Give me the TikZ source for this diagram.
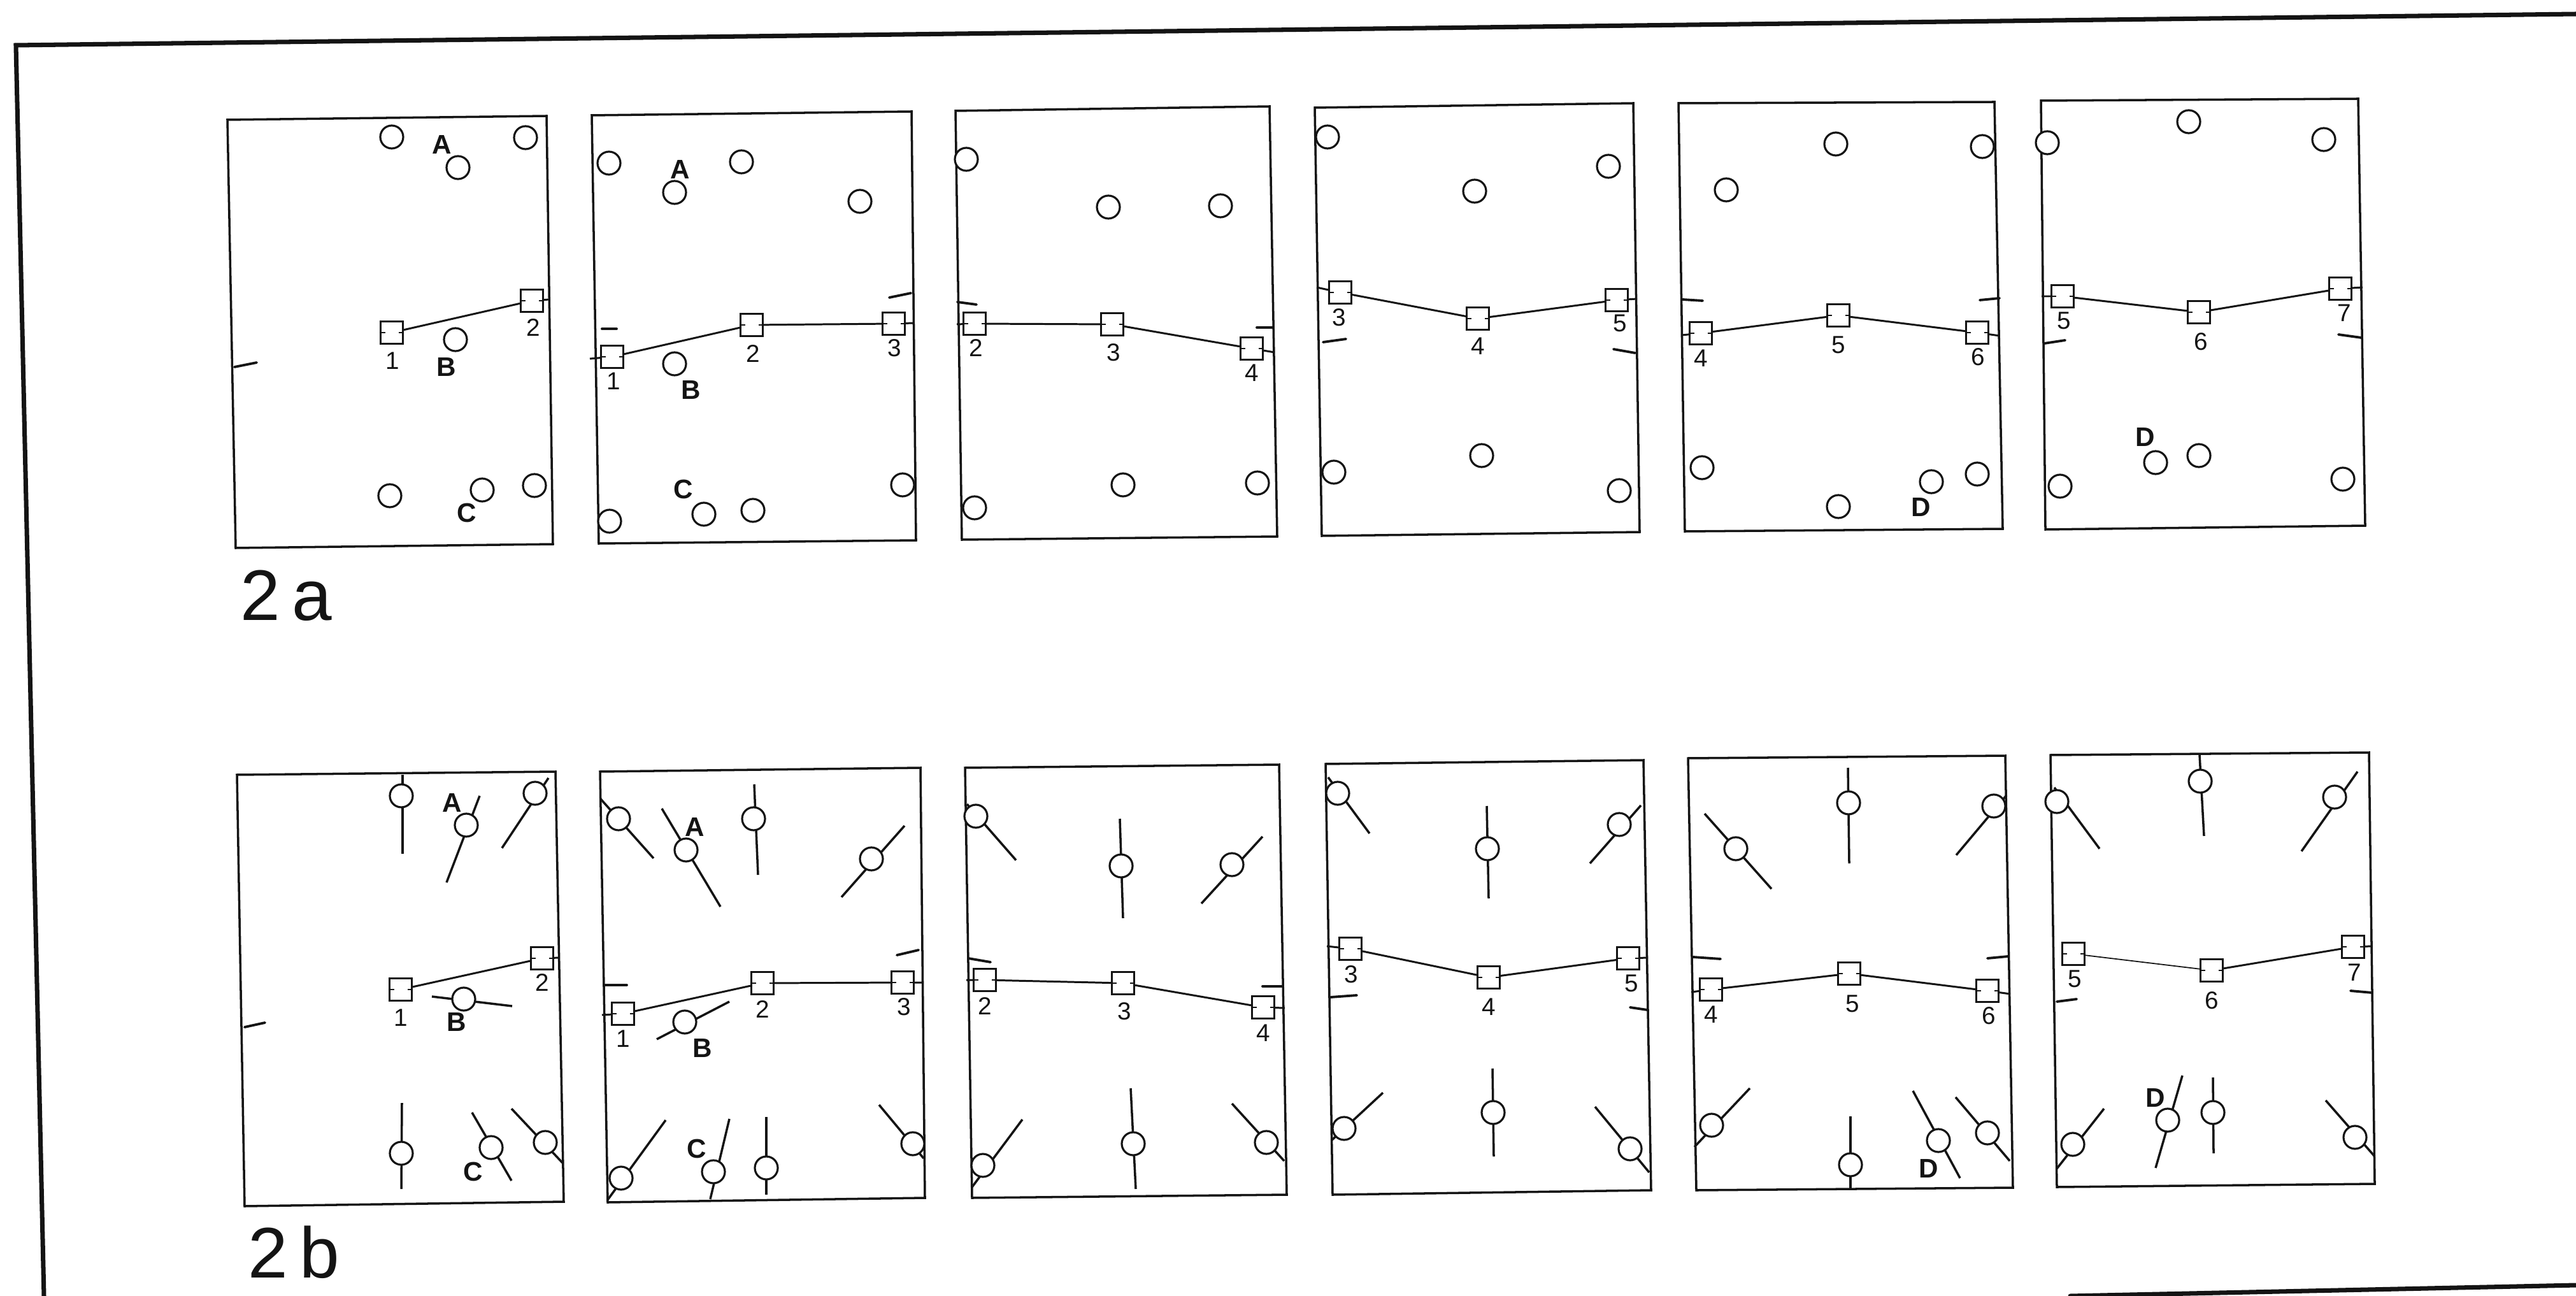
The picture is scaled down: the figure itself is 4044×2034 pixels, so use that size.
\documentclass[tikz,border=0pt]{standalone}
\usepackage{fontspec}
\setmainfont{Liberation Sans}
\usepackage{tikz}
\definecolor{fdink}{HTML}{141414}
\definecolor{fdpage}{HTML}{FFFFFF}
\tikzset{
  fdframe/.style={
    draw=fdink,
    line width=2pt,
    line cap=round
  },
  fdpanel/.style={
    draw=fdink,
    line width=1pt
  },
  fdring/.style={
    circle,
    draw=fdink,
    fill=fdpage,
    line width=0.9pt,
    minimum size=3.6mm,
    inner sep=0pt
  },
  fdstation/.style={
    rectangle,
    draw=fdink,
    fill=fdpage,
    line width=0.75pt,
    minimum size=3.5mm,
    inner sep=0pt,
    path picture={
      \draw[fdink, line width=0.7pt]
        (path picture bounding box.west) -- ++(0.7mm,0)
        (path picture bounding box.east) -- ++(-0.7mm,0);
    }
  },
  fdtrack/.style={
    draw=fdink,
    line width=0.85pt
  },
  fdneedle/.style={
    draw=fdink,
    line width=1pt
  },
  fdtick/.style={
    draw=fdink,
    line width=1.1pt,
    line cap=round
  },
  fdnum/.style={
    font=\fontsize{11}{11}\selectfont,
    text=fdink,
    inner sep=0pt
  },
  fdletter/.style={
    font=\fontsize{12}{12}\selectfont\bfseries,
    text=fdink,
    inner sep=0pt
  },
  fdcaption/.style={
    font=\fontsize{32}{32}\selectfont,
    text=fdink,
    inner sep=0pt,
    anchor=base west
  }
}

\begin{document}
\begin{tikzpicture}[x=0.1mm,y=-0.1mm]
  \useasboundingbox[fill=fdpage] (0,0) rectangle (4044,2034);

  % outer frame
  \draw[fdframe] (69,2034) -- (25,71) -- (4044,22);
  \draw[fdframe] (3250,2034) -- (4044,2017);

  % ---------------- 2a ----------------
  \draw[fdpanel] (357,188) -- (858,182) -- (868,854) -- (370,860) -- cycle;
  \draw[fdpanel] (929,181) -- (1431,175) -- (1438,848) -- (940,853) -- cycle;
  \draw[fdpanel] (1500,174) -- (1993,167) -- (2005,842) -- (1510,847) -- cycle;
  \draw[fdpanel] (2064,169) -- (2564,162) -- (2574,835) -- (2075,841) -- cycle;
  \draw[fdpanel] (2635,162) -- (3131,160) -- (3144,830) -- (2645,834) -- cycle;
  \draw[fdpanel] (3204,158) -- (3702,155) -- (3713,825) -- (3211,831) -- cycle;

  \node[fdring] (a1c1) at (615,215) {};
  \node[fdring] (a1c2) at (825,216) {};
  \node[fdring] (a1c3) at (719,263) {};
  \node[fdring] (a1c4) at (715,533) {};
  \node[fdring] (a1c5) at (612,778) {};
  \node[fdring] (a1c6) at (757,769) {};
  \node[fdring] (a1c7) at (839,762) {};
  \node[fdletter] (a1la) at (694,227) {A};
  \node[fdletter] (a1lb) at (701,576) {B};
  \node[fdletter] (a1lc) at (733,805) {C};
  \node[fdstation] (a1s1) at (615,522) {};
  \node[fdstation] (a1s2) at (835,472) {};
  \node[fdnum] (a1n1) at (616,566) {1};
  \node[fdnum] (a1n2) at (837,514) {2};
  \coordinate (a1e) at (862,470);
  \draw[fdtrack] (a1s1) -- (a1s2);
  \draw[fdtrack] (a1s2) -- (a1e);
  \draw[fdtick] (368,576) -- (403,569);

  \node[fdring] (a2c1) at (956,256) {};
  \node[fdring] (a2c2) at (1164,254) {};
  \node[fdring] (a2c3) at (1059,302) {};
  \node[fdring] (a2c4) at (1350,316) {};
  \node[fdring] (a2c5) at (1059,571) {};
  \node[fdring] (a2c6) at (957,818) {};
  \node[fdring] (a2c7) at (1105,807) {};
  \node[fdring] (a2c8) at (1182,801) {};
  \node[fdring] (a2c9) at (1417,761) {};
  \node[fdletter] (a2la) at (1068,266) {A};
  \node[fdletter] (a2lb) at (1085,612) {B};
  \node[fdletter] (a2lc) at (1073,768) {C};
  \node[fdstation] (a2s1) at (961,560) {};
  \node[fdstation] (a2s2) at (1180,510) {};
  \node[fdstation] (a2s3) at (1403,508) {};
  \node[fdnum] (a2n1) at (963,598) {1};
  \node[fdnum] (a2n2) at (1182,555) {2};
  \node[fdnum] (a2n3) at (1404,546) {3};
  \coordinate (a2w) at (926,563);
  \coordinate (a2e) at (1434,507);
  \draw[fdtrack] (a2w) -- (a2s1) -- (a2s2) -- (a2s3) -- (a2e);
  \draw[fdtick] (945,516) -- (968,516);
  \draw[fdtick] (1396,467) -- (1430,460);

  \node[fdring] (a3c1) at (1517,250) {};
  \node[fdring] (a3c2) at (1740,325) {};
  \node[fdring] (a3c3) at (1916,323) {};
  \node[fdring] (a3c4) at (1530,797) {};
  \node[fdring] (a3c5) at (1763,761) {};
  \node[fdring] (a3c6) at (1974,758) {};
  \node[fdstation] (a3s2) at (1530,508) {};
  \node[fdstation] (a3s3) at (1746,509) {};
  \node[fdstation] (a3s4) at (1965,547) {};
  \node[fdnum] (a3n2) at (1532,546) {2};
  \node[fdnum] (a3n3) at (1748,553) {3};
  \node[fdnum] (a3n4) at (1965,585) {4};
  \coordinate (a3w) at (1502,509);
  \coordinate (a3e) at (2001,553);
  \draw[fdtrack] (a3w) -- (a3s2) -- (a3s3) -- (a3s4) -- (a3e);
  \draw[fdtick] (1503,474) -- (1533,478);
  \draw[fdtick] (1973,514) -- (1999,514);

  \node[fdring] (a4c1) at (2084,215) {};
  \node[fdring] (a4c2) at (2525,261) {};
  \node[fdring] (a4c3) at (2315,300) {};
  \node[fdring] (a4c4) at (2094,741) {};
  \node[fdring] (a4c5) at (2326,715) {};
  \node[fdring] (a4c6) at (2542,770) {};
  \node[fdstation] (a4s3) at (2104,459) {};
  \node[fdstation] (a4s4) at (2320,500) {};
  \node[fdstation] (a4s5) at (2538,471) {};
  \node[fdnum] (a4n3) at (2102,498) {3};
  \node[fdnum] (a4n4) at (2320,543) {4};
  \node[fdnum] (a4n5) at (2543,507) {5};
  \coordinate (a4w) at (2067,451);
  \coordinate (a4e) at (2570,469);
  \draw[fdtrack] (a4w) -- (a4s3) -- (a4s4) -- (a4s5) -- (a4e);
  \draw[fdtick] (2077,537) -- (2113,532);
  \draw[fdtick] (2533,548) -- (2567,554);

  \node[fdring] (a5c1) at (2882,226) {};
  \node[fdring] (a5c2) at (3112,230) {};
  \node[fdring] (a5c3) at (2710,298) {};
  \node[fdring] (a5c4) at (2672,734) {};
  \node[fdring] (a5c5) at (2886,795) {};
  \node[fdring] (a5c6) at (3032,756) {};
  \node[fdring] (a5c7) at (3104,744) {};
  \node[fdletter] (a5ld) at (3016,796) {D};
  \node[fdstation] (a5s4) at (2670,523) {};
  \node[fdstation] (a5s5) at (2886,495) {};
  \node[fdstation] (a5s6) at (3104,522) {};
  \node[fdnum] (a5n4) at (2670,562) {4};
  \node[fdnum] (a5n5) at (2886,541) {5};
  \node[fdnum] (a5n6) at (3105,560) {6};
  \coordinate (a5w) at (2640,526);
  \coordinate (a5e) at (3139,527);
  \draw[fdtrack] (a5w) -- (a5s4) -- (a5s5) -- (a5s6) -- (a5e);
  \draw[fdtick] (2641,470) -- (2673,472);
  \draw[fdtick] (3108,471) -- (3139,468);

  \node[fdring] (a6c1) at (3436,191) {};
  \node[fdring] (a6c2) at (3648,219) {};
  \node[fdring] (a6c3) at (3214,224) {};
  \node[fdring] (a6c4) at (3452,715) {};
  \node[fdring] (a6c5) at (3384,726) {};
  \node[fdring] (a6c6) at (3234,763) {};
  \node[fdring] (a6c7) at (3678,752) {};
  \node[fdletter] (a6ld) at (3368,686) {D};
  \node[fdstation] (a6s5) at (3238,465) {};
  \node[fdstation] (a6s6) at (3452,490) {};
  \node[fdstation] (a6s7) at (3674,453) {};
  \node[fdnum] (a6n5) at (3240,503) {5};
  \node[fdnum] (a6n6) at (3455,536) {6};
  \node[fdnum] (a6n7) at (3680,491) {7};
  \coordinate (a6w) at (3205,465);
  \coordinate (a6e) at (3709,451);
  \draw[fdtrack] (a6w) -- (a6s5) -- (a6s6) -- (a6s7) -- (a6e);
  \draw[fdtick] (3209,539) -- (3242,534);
  \draw[fdtick] (3671,525) -- (3707,530);

  \node[fdcaption] (cap2a) at (377,973) {2\hspace{1.8mm}a};

  % ---------------- 2b ----------------
  \draw[fdpanel] (372,1216) -- (872,1211) -- (885,1886) -- (384,1893) -- cycle;
  \draw[fdpanel] (942,1211) -- (1445,1205) -- (1452,1880) -- (954,1887) -- cycle;
  \draw[fdpanel] (1515,1205) -- (2008,1200) -- (2020,1875) -- (1526,1880) -- cycle;
  \draw[fdpanel] (2081,1199) -- (2580,1193) -- (2592,1868) -- (2092,1875) -- cycle;
  \draw[fdpanel] (2650,1190) -- (3148,1186) -- (3160,1864) -- (2663,1868) -- cycle;
  \draw[fdpanel] (3219,1185) -- (3719,1181) -- (3728,1858) -- (3229,1863) -- cycle;

  \draw[fdneedle] (632,1216) -- (632,1340);
  \draw[fdneedle] (753,1249) -- (701,1385);
  \draw[fdneedle] (861,1221) -- (788,1331);
  \draw[fdneedle] (678,1564) -- (804,1579);
  \draw[fdneedle] (631,1731) -- (630,1866);
  \draw[fdneedle] (741,1746) -- (803,1853);
  \draw[fdneedle] (803,1740) -- (884,1826);
  \node[fdring] (b1c1) at (630,1249) {};
  \node[fdring] (b1c2) at (732,1295) {};
  \node[fdring] (b1c3) at (840,1245) {};
  \node[fdring] (b1c4) at (728,1568) {};
  \node[fdring] (b1c5) at (630,1810) {};
  \node[fdring] (b1c6) at (771,1801) {};
  \node[fdring] (b1c7) at (856,1793) {};
  \node[fdletter] (b1la) at (710,1260) {A};
  \node[fdletter] (b1lb) at (717,1604) {B};
  \node[fdletter] (b1lc) at (743,1839) {C};
  \node[fdstation] (b1s1) at (629,1553) {};
  \node[fdstation] (b1s2) at (851,1504) {};
  \node[fdnum] (b1n1) at (629,1597) {1};
  \node[fdnum] (b1n2) at (851,1542) {2};
  \coordinate (b1e) at (878,1503);
  \draw[fdtrack] (b1s1) -- (b1s2) -- (b1e);
  \draw[fdtick] (384,1612) -- (416,1605);

  \draw[fdneedle] (943,1254) -- (1026,1347);
  \draw[fdneedle] (1039,1269) -- (1131,1423);
  \draw[fdneedle] (1184,1231) -- (1190,1373);
  \draw[fdneedle] (1420,1296) -- (1321,1408);
  \draw[fdneedle] (1031,1631) -- (1145,1572);
  \draw[fdneedle] (954,1883) -- (1045,1758);
  \draw[fdneedle] (1145,1756) -- (1115,1882);
  \draw[fdneedle] (1203,1753) -- (1203,1875);
  \draw[fdneedle] (1380,1734) -- (1450,1818);
  \node[fdring] (b2c1) at (971,1285) {};
  \node[fdring] (b2c2) at (1077,1334) {};
  \node[fdring] (b2c3) at (1183,1285) {};
  \node[fdring] (b2c4) at (1368,1348) {};
  \node[fdring] (b2c5) at (1075,1604) {};
  \node[fdring] (b2c6) at (975,1849) {};
  \node[fdring] (b2c7) at (1120,1839) {};
  \node[fdring] (b2c8) at (1203,1833) {};
  \node[fdring] (b2c9) at (1433,1795) {};
  \node[fdletter] (b2la) at (1091,1298) {A};
  \node[fdletter] (b2lb) at (1103,1645) {B};
  \node[fdletter] (b2lc) at (1094,1803) {C};
  \node[fdstation] (b2s1) at (978,1591) {};
  \node[fdstation] (b2s2) at (1197,1543) {};
  \node[fdstation] (b2s3) at (1417,1542) {};
  \node[fdnum] (b2n1) at (978,1630) {1};
  \node[fdnum] (b2n2) at (1197,1584) {2};
  \node[fdnum] (b2n3) at (1419,1580) {3};
  \coordinate (b2w) at (945,1593);
  \coordinate (b2e) at (1448,1542);
  \draw[fdtrack] (b2w) -- (b2s1) -- (b2s2) -- (b2s3) -- (b2e);
  \draw[fdtick] (949,1546) -- (984,1546);
  \draw[fdtick] (1408,1499) -- (1442,1491);

  \draw[fdneedle] (1518,1262) -- (1595,1350);
  \draw[fdneedle] (1758,1285) -- (1763,1441);
  \draw[fdneedle] (1982,1313) -- (1886,1418);
  \draw[fdneedle] (1605,1757) -- (1526,1863);
  \draw[fdneedle] (1775,1708) -- (1783,1866);
  \draw[fdneedle] (1934,1732) -- (2016,1822);
  \node[fdring] (b3c1) at (1532,1281) {};
  \node[fdring] (b3c2) at (1760,1359) {};
  \node[fdring] (b3c3) at (1934,1357) {};
  \node[fdring] (b3c4) at (1543,1829) {};
  \node[fdring] (b3c5) at (1779,1795) {};
  \node[fdring] (b3c6) at (1988,1793) {};
  \node[fdstation] (b3s2) at (1546,1538) {};
  \node[fdstation] (b3s3) at (1763,1543) {};
  \node[fdstation] (b3s4) at (1983,1581) {};
  \node[fdnum] (b3n2) at (1546,1579) {2};
  \node[fdnum] (b3n3) at (1765,1587) {3};
  \node[fdnum] (b3n4) at (1983,1621) {4};
  \coordinate (b3w) at (1517,1538);
  \coordinate (b3e) at (2017,1582);
  \draw[fdtrack] (b3w) -- (b3s2) -- (b3s3) -- (b3s4) -- (b3e);
  \draw[fdtick] (1520,1504) -- (1555,1510);
  \draw[fdtick] (1982,1548) -- (2012,1548);

  \draw[fdneedle] (2085,1220) -- (2150,1308);
  \draw[fdneedle] (2334,1265) -- (2337,1410);
  \draw[fdneedle] (2576,1264) -- (2496,1355);
  \draw[fdneedle] (2171,1715) -- (2090,1790);
  \draw[fdneedle] (2343,1677) -- (2345,1815);
  \draw[fdneedle] (2504,1737) -- (2589,1840);
  \node[fdring] (b4c1) at (2100,1245) {};
  \node[fdring] (b4c2) at (2335,1332) {};
  \node[fdring] (b4c3) at (2542,1294) {};
  \node[fdring] (b4c4) at (2110,1771) {};
  \node[fdring] (b4c5) at (2344,1746) {};
  \node[fdring] (b4c6) at (2559,1803) {};
  \node[fdstation] (b4s3) at (2120,1489) {};
  \node[fdstation] (b4s4) at (2337,1534) {};
  \node[fdstation] (b4s5) at (2556,1504) {};
  \node[fdnum] (b4n3) at (2121,1529) {3};
  \node[fdnum] (b4n4) at (2337,1580) {4};
  \node[fdnum] (b4n5) at (2561,1543) {5};
  \coordinate (b4w) at (2083,1485);
  \coordinate (b4e) at (2587,1503);
  \draw[fdtrack] (b4w) -- (b4s3) -- (b4s4) -- (b4s5) -- (b4e);
  \draw[fdtick] (2089,1565) -- (2130,1562);
  \draw[fdtick] (2559,1581) -- (2586,1585);

  \draw[fdneedle] (2676,1277) -- (2781,1395);
  \draw[fdneedle] (2901,1205) -- (2903,1355);
  \draw[fdneedle] (3150,1248) -- (3071,1342);
  \draw[fdneedle] (2747,1708) -- (2660,1800);
  \draw[fdneedle] (2905,1752) -- (2905,1866);
  \draw[fdneedle] (3003,1712) -- (3077,1849);
  \draw[fdneedle] (3070,1722) -- (3155,1822);
  \node[fdring] (b5c1) at (2725,1332) {};
  \node[fdring] (b5c2) at (2902,1260) {};
  \node[fdring] (b5c3) at (3130,1265) {};
  \node[fdring] (b5c4) at (2687,1766) {};
  \node[fdring] (b5c5) at (2905,1828) {};
  \node[fdring] (b5c6) at (3043,1790) {};
  \node[fdring] (b5c7) at (3120,1778) {};
  \node[fdletter] (b5ld) at (3028,1834) {D};
  \node[fdstation] (b5s4) at (2686,1553) {};
  \node[fdstation] (b5s5) at (2903,1528) {};
  \node[fdstation] (b5s6) at (3120,1555) {};
  \node[fdnum] (b5n4) at (2686,1592) {4};
  \node[fdnum] (b5n5) at (2908,1575) {5};
  \node[fdnum] (b5n6) at (3122,1594) {6};
  \coordinate (b5w) at (2655,1557);
  \coordinate (b5e) at (3156,1560);
  \draw[fdtrack] (b5w) -- (b5s4) -- (b5s5) -- (b5s6) -- (b5e);
  \draw[fdtick] (2658,1502) -- (2701,1505);
  \draw[fdtick] (3120,1504) -- (3152,1501);

  \draw[fdneedle] (3225,1236) -- (3296,1332);
  \draw[fdneedle] (3453,1185) -- (3460,1312);
  \draw[fdneedle] (3701,1211) -- (3613,1336);
  \draw[fdneedle] (3303,1740) -- (3229,1834);
  \draw[fdneedle] (3426,1688) -- (3384,1833);
  \draw[fdneedle] (3474,1691) -- (3475,1810);
  \draw[fdneedle] (3651,1727) -- (3728,1815);
  \node[fdring] (b6c1) at (3229,1258) {};
  \node[fdring] (b6c2) at (3454,1226) {};
  \node[fdring] (b6c3) at (3665,1251) {};
  \node[fdring] (b6c4) at (3254,1796) {};
  \node[fdring] (b6c5) at (3403,1758) {};
  \node[fdring] (b6c6) at (3474,1746) {};
  \node[fdring] (b6c7) at (3697,1785) {};
  \node[fdletter] (b6ld) at (3384,1723) {D};
  \node[fdstation] (b6s5) at (3255,1497) {};
  \node[fdstation] (b6s6) at (3472,1523) {};
  \node[fdstation] (b6s7) at (3694,1486) {};
  \node[fdnum] (b6n5) at (3257,1536) {5};
  \node[fdnum] (b6n6) at (3472,1570) {6};
  \node[fdnum] (b6n7) at (3696,1526) {7};
  \coordinate (b6e) at (3724,1485);
  \draw[fdtrack, line width=0.5pt] (b6s5) -- (b6s6);
  \draw[fdtrack] (b6s6) -- (b6s7) -- (b6e);
  \draw[fdtick] (3229,1572) -- (3260,1568);
  \draw[fdtick] (3690,1555) -- (3724,1558);

  \node[fdcaption] (cap2b) at (389,2005) {2\hspace{1.8mm}b};
\end{tikzpicture}
\end{document}
